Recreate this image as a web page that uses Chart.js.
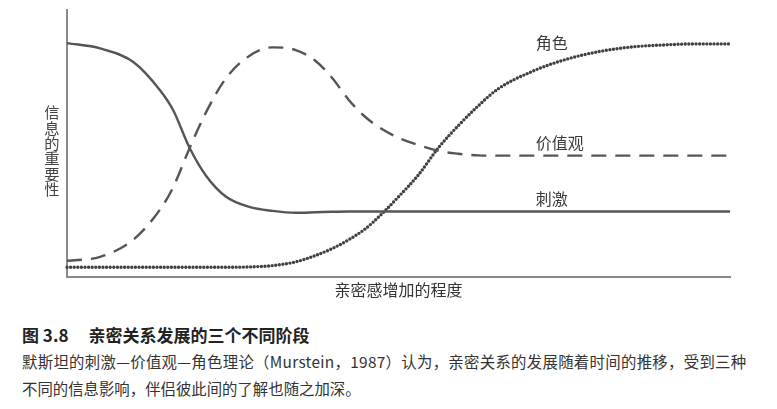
<!DOCTYPE html>
<html>
<head>
<meta charset="utf-8">
<script src="https://cdn.jsdelivr.net/npm/chart.js@4"></script>
<style>
  body { margin: 0; background: #fff; width: 777px; height: 409px; overflow: hidden; position: relative;
         font-family: "Noto Sans CJK SC", sans-serif; color: #333; }
  #wrap { position: absolute; left: 0; top: 0; width: 777px; height: 300px; }
  #ylab { position: absolute; left: 44px; top: 105px; writing-mode: vertical-rl; text-orientation: upright;
          font-size: 15.3px; line-height: 16px; color: #444; }
  #cap { position: absolute; left: 22px; top: 322px; font-size: 17px; line-height: 26px; font-weight: bold; color: #222; }
  #cap span { margin-left: 20px; }
  .para { position: absolute; left: 22px; font-size: 15.4px; line-height: 22px; color: #333; white-space: nowrap; }
</style>
</head>
<body>
<div id="wrap"><canvas id="chart" width="777" height="300"></canvas></div>
<div id="ylab">信息的重要性</div>
<div id="cap">图 3.8<span>亲密关系发展的三个不同阶段</span></div>
<div class="para" style="top:350px; letter-spacing:0.3px">默斯坦的刺激—价值观—角色理论（Murstein，1987）认为，亲密关系的发展随着时间的推移，受到三种</div>
<div class="para" style="top:377px">不同的信息影响，伴侣彼此间的了解也随之加深。</div>
<script>
// degree of intimacy (x, 0-100) and importance of information (y, 0-100)
const intimacy = [0, 5, 10, 14, 16, 18.5, 21, 24, 27.5, 31, 34.5, 37.5, 40, 42.5, 45, 47.5, 50, 53, 56, 59, 62, 65, 70, 75, 80, 85, 90, 95, 100];
const stimulus = [87.6, 85.6, 80.5, 70.0, 62.5, 48.3, 37.8, 30.0, 26.2, 24.7, 24.0, 24.2, 24.4, 24.5, 24.5, 24.5, 24.5, 24.5, 24.5, 24.5, 24.5, 24.5, 24.5, 24.5, 24.5, 24.5, 24.5, 24.5, 24.5];
const values = [6.0, 7.5, 13.9, 25.1, 33.5, 48.3, 61.8, 74.5, 82.8, 86.0, 85.0, 80.9, 74.5, 66.3, 59.9, 55.4, 52.1, 49.4, 47.2, 46.1, 45.5, 45.4, 45.4, 45.4, 45.4, 45.4, 45.4, 45.4, 45.4];
const roles = [3.6, 3.6, 3.6, 3.6, 3.6, 3.6, 3.6, 3.6, 3.7, 4.2, 5.6, 8.0, 10.6, 13.9, 18.0, 23.6, 30.0, 38.2, 48.3, 56.6, 64.0, 70.4, 76.8, 81.3, 84.3, 86.1, 86.9, 87.3, 87.3];
const seriesNames = ["刺激", "价值观", "角色"];

function toPoints(ys) {
  return ys.map((y, i) => ({ x: intimacy[i], y: y }));
}

// series names written next to the curves
const curveLabels = {
  id: "curveLabels",
  afterDatasetsDraw(chart) {
    const ctx = chart.ctx;
    const xs = chart.scales.x;
    const ys = chart.scales.y;
    const offsets = [-13, -13, -1]; // px above the flat end of each curve
    ctx.save();
    ctx.font = '16px "Noto Sans CJK SC"';
    ctx.fillStyle = "#3a3a3a";
    ctx.textBaseline = "middle";
    chart.data.datasets.forEach((ds, i) => {
      const last = ds.data[ds.data.length - 1];
      ctx.fillText(ds.label, xs.getPixelForValue(70.7), ys.getPixelForValue(last.y) + offsets[i]);
    });
    ctx.restore();
  },
};

const lineColor = "#555";

new Chart(document.getElementById("chart").getContext("2d"), {
  type: "line",
  data: {
    datasets: [
      {
        label: seriesNames[0],
        data: toPoints(stimulus),
        borderColor: lineColor,
        borderWidth: 2.4,
      },
      {
        label: seriesNames[1],
        data: toPoints(values),
        borderColor: lineColor,
        borderWidth: 2.4,
        borderDash: [15, 9],
      },
      {
        label: seriesNames[2],
        data: toPoints(roles),
        borderColor: "#404040",
        borderWidth: 3.4,
        borderDash: [0, 3.6],
        borderCapStyle: "round",
      },
    ],
  },
  options: {
    responsive: false,
    animation: false,
    clip: false,
    layout: { padding: { left: 67, right: 47, top: 10, bottom: 0 } },
    elements: {
      point: { radius: 0 },
      line: { cubicInterpolationMode: "monotone", fill: false },
    },
    plugins: { legend: { display: false }, tooltip: { enabled: false } },
    scales: {
      x: {
        type: "linear",
        min: 0,
        max: 100,
        ticks: { display: false },
        grid: { display: false, drawTicks: false },
        border: { color: "#8a8a8a", width: 2 },
        title: {
          display: true,
          text: "亲密感增加的程度",
          color: "#333",
          font: { size: 16, family: "Noto Sans CJK SC" },
          padding: { top: 4, bottom: 0 },
        },
      },
      y: {
        min: 0,
        max: 100,
        ticks: { display: false },
        grid: { display: false, drawTicks: false },
        border: { color: "#8a8a8a", width: 2 },
      },
    },
  },
  plugins: [curveLabels],
});
</script>
</body>
</html>
